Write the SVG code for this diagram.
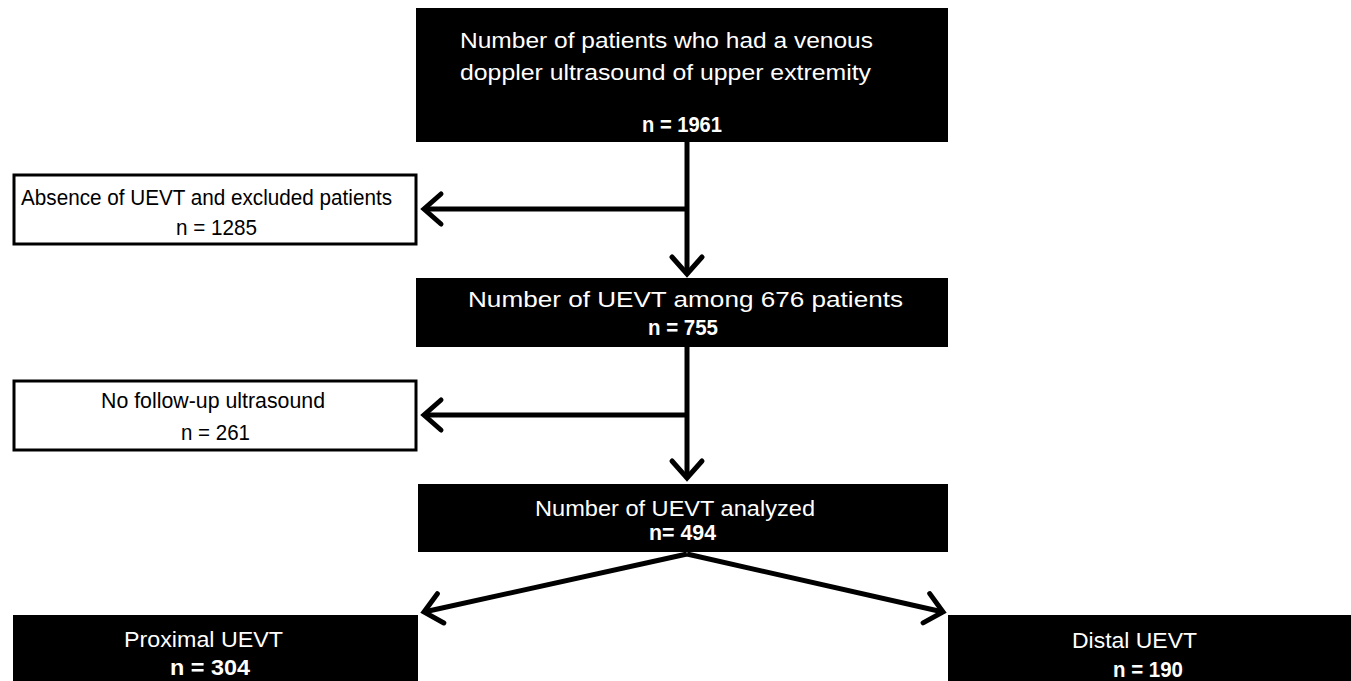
<svg xmlns="http://www.w3.org/2000/svg" width="1351" height="681" viewBox="0 0 1351 681">
<defs>
<marker id="arr" markerUnits="userSpaceOnUse" markerWidth="40" markerHeight="40" viewBox="-25 -20 30 40" refX="0" refY="0" orient="auto">
<path d="M -17 -15 L 0 0 L -17 15" fill="none" stroke="#000" stroke-width="5" stroke-linecap="round" stroke-linejoin="miter"/>
</marker>
<style>
.dark{fill:#000;}
.light{fill:#fff;stroke:#000;stroke-width:3;}
.tw{fill:#fff;font-family:"Liberation Sans",Arial,sans-serif;font-size:22px;}
.tb{fill:#000;font-family:"Liberation Sans",Arial,sans-serif;font-size:22px;}
.bold{font-weight:bold;}
.conn{stroke:#000;stroke-width:5;fill:none;marker-end:url(#arr);}
</style>
</defs>
<rect width="1351" height="681" fill="#fff"/>
<g id="connectors">
<line class="conn" x1="687" y1="142" x2="687" y2="274"/>
<line class="conn" x1="689" y1="209" x2="424" y2="209"/>
<line class="conn" x1="687" y1="347" x2="687" y2="478"/>
<line class="conn" x1="689" y1="415" x2="424" y2="415"/>
<line class="conn" x1="687" y1="554" x2="424" y2="612"/>
<line class="conn" x1="687" y1="554" x2="943" y2="612"/>
</g>
<g id="node-total">
<rect class="dark" x="416" y="8" width="532" height="134"/>
<text class="tw" x="460" y="48" textLength="413" lengthAdjust="spacingAndGlyphs">Number of patients who had a venous</text>
<text class="tw" x="460" y="80" textLength="411" lengthAdjust="spacingAndGlyphs">doppler ultrasound of upper extremity</text>
<text class="tw bold" x="642" y="132" textLength="80" lengthAdjust="spacingAndGlyphs">n = 1961</text>
</g>
<g id="node-excluded">
<rect class="light" x="14" y="175" width="402" height="69"/>
<text class="tb" x="21" y="205" textLength="371" lengthAdjust="spacingAndGlyphs">Absence of UEVT and excluded patients</text>
<text class="tb" x="176" y="235" textLength="81" lengthAdjust="spacingAndGlyphs">n = 1285</text>
</g>
<g id="node-uevt">
<rect class="dark" x="416" y="278" width="532" height="69"/>
<text class="tw" x="468" y="307" textLength="435" lengthAdjust="spacingAndGlyphs">Number of UEVT among 676 patients</text>
<text class="tw bold" x="648" y="335" textLength="70" lengthAdjust="spacingAndGlyphs">n = 755</text>
</g>
<g id="node-nofollow">
<rect class="light" x="14" y="381" width="402" height="69"/>
<text class="tb" x="101" y="408" textLength="224" lengthAdjust="spacingAndGlyphs">No follow-up ultrasound</text>
<text class="tb" x="181" y="440" textLength="69" lengthAdjust="spacingAndGlyphs">n = 261</text>
</g>
<g id="node-analyzed">
<rect class="dark" x="418" y="484" width="530" height="68"/>
<text class="tw" x="535" y="516" textLength="280" lengthAdjust="spacingAndGlyphs">Number of UEVT analyzed</text>
<text class="tw bold" x="649" y="540" textLength="67" lengthAdjust="spacingAndGlyphs">n= 494</text>
</g>
<g id="node-proximal">
<rect class="dark" x="13" y="615" width="405" height="72"/>
<text class="tw" x="124" y="647" textLength="159" lengthAdjust="spacingAndGlyphs">Proximal UEVT</text>
<text class="tw bold" x="170" y="675" textLength="80" lengthAdjust="spacingAndGlyphs">n = 304</text>
</g>
<g id="node-distal">
<rect class="dark" x="948" y="615" width="410" height="72"/>
<text class="tw" x="1072" y="648" textLength="125" lengthAdjust="spacingAndGlyphs">Distal UEVT</text>
<text class="tw bold" x="1113" y="677" textLength="70" lengthAdjust="spacingAndGlyphs">n = 190</text>
</g>
</svg>
